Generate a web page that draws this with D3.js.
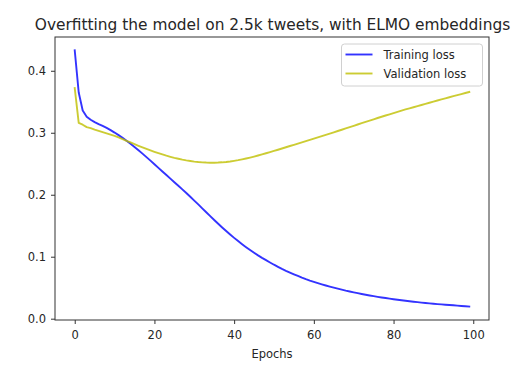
<!DOCTYPE html>
<html><head><meta charset="utf-8">
<script src="https://cdn.jsdelivr.net/npm/d3@7"></script>
<style>
html,body{margin:0;padding:0;background:#fff;}
svg{display:block;font-family:"DejaVu Sans",sans-serif;}
</style></head>
<body>
<script>
const titleText = "Overfitting the model on 2.5k tweets, with ELMO embeddings";
const xLabel = "Epochs";
const seriesNames = ["Training loss", "Validation loss"];
const xTicks = [0, 20, 40, 60, 80, 100];
const yTicks = [0.0, 0.1, 0.2, 0.3, 0.4];

const trainingLoss = [
 0.4330,0.3650,0.3360,0.3260,0.3210,0.3172,0.3140,0.3110,0.3078,0.3042,
 0.3003,0.2962,0.2918,0.2871,0.2822,0.2771,0.2718,0.2663,0.2607,0.2550,
 0.2492,0.2434,0.2376,0.2318,0.2260,0.2202,0.2144,0.2086,0.2027,0.1967,
 0.1906,0.1844,0.1781,0.1718,0.1655,0.1593,0.1532,0.1472,0.1414,0.1358,
 0.1304,0.1252,0.1202,0.1154,0.1108,0.1064,0.1022,0.0982,0.0944,0.0907,
 0.0871,0.0837,0.0804,0.0773,0.0744,0.0716,0.0689,0.0662,0.0637,0.0614,
 0.0593,0.0573,0.0554,0.0536,0.0518,0.0501,0.0484,0.0468,0.0452,0.0438,
 0.0425,0.0412,0.0399,0.0387,0.0375,0.0364,0.0353,0.0343,0.0333,0.0323,
 0.0314,0.0305,0.0297,0.0289,0.0281,0.0274,0.0267,0.0260,0.0254,0.0248,
 0.0242,0.0236,0.0231,0.0226,0.0221,0.0216,0.0211,0.0206,0.0201,0.0196
];
const validationLoss = [
 0.3720,0.3160,0.3130,0.3090,0.3075,0.3050,0.3030,0.3010,0.2990,0.2970,
 0.2950,0.2925,0.2898,0.2870,0.2843,0.2816,0.2790,0.2765,0.2740,0.2716,
 0.2693,0.2671,0.2650,0.2630,0.2612,0.2595,0.2580,0.2566,0.2554,0.2544,
 0.2535,0.2528,0.2523,0.2519,0.2517,0.2517,0.2519,0.2523,0.2529,0.2537,
 0.2547,0.2558,0.2571,0.2585,0.2600,0.2616,0.2633,0.2651,0.2669,0.2688,
 0.2707,0.2726,0.2746,0.2766,0.2786,0.2806,0.2826,0.2846,0.2866,0.2886,
 0.2906,0.2926,0.2946,0.2966,0.2986,0.3007,0.3028,0.3049,0.3070,0.3091,
 0.3112,0.3133,0.3154,0.3175,0.3196,0.3217,0.3238,0.3258,0.3278,0.3298,
 0.3318,0.3338,0.3357,0.3376,0.3394,0.3412,0.3430,0.3448,0.3466,0.3484,
 0.3502,0.3520,0.3538,0.3556,0.3573,0.3590,0.3607,0.3624,0.3641,0.3658
];
const epochs = trainingLoss.map((d, i) => i);
const colors = ["#0000ff", "#bfbf00"];

const W = 511, H = 369;
const plot = {left: 55, right: 489, top: 37, bottom: 320};
const textColor = "#262626";
const fontSize = 11.5;

const svg = d3.select("body").append("svg").attr("width", W).attr("height", H);

const x = d3.scaleLinear().domain([-4.95, 103.95]).range([plot.left, plot.right]);
const y = d3.scaleLinear().domain([-0.0021, 0.4545]).range([plot.bottom, plot.top]);

// title
svg.append("text").attr("x", (plot.left + plot.right) / 2 + 0.5).attr("y", 29.5)
  .attr("text-anchor", "middle").attr("font-size", 15.4).attr("fill", textColor)
  .text(titleText);

// lines
const series = [trainingLoss, validationLoss];
const line = d3.line().x((d, i) => x(epochs[i])).y(d => y(d));
series.forEach((s, k) => {
  svg.append("path").datum(s).attr("d", line)
    .attr("fill", "none").attr("stroke", colors[k]).attr("stroke-opacity", 0.8)
    .attr("stroke-width", 1.9).attr("stroke-linejoin", "round").attr("stroke-linecap", "square");
});

// axes
const xAxis = d3.axisBottom(x).tickValues(xTicks).tickSize(4).tickPadding(7).tickFormat(d3.format("d"));
const gx = svg.append("g").attr("transform", `translate(0,${plot.bottom})`).call(xAxis);
const yAxis = d3.axisLeft(y).tickValues(yTicks).tickSize(4).tickPadding(5).tickFormat(d3.format(".1f"));
const gy = svg.append("g").attr("transform", `translate(${plot.left},0)`).call(yAxis);
[gx, gy].forEach(g => {
  g.select(".domain").remove();
  g.selectAll(".tick line").attr("stroke", "#333").attr("stroke-width", 1);
  g.selectAll(".tick text").attr("fill", textColor).attr("font-size", fontSize)
    .attr("font-family", "DejaVu Sans, sans-serif");
});

// spines
svg.append("rect").attr("x", plot.left).attr("y", plot.top)
  .attr("width", plot.right - plot.left).attr("height", plot.bottom - plot.top)
  .attr("fill", "none").attr("stroke", "#333").attr("stroke-width", 1);

// x label
svg.append("text").attr("x", (plot.left + plot.right) / 2).attr("y", 357.5)
  .attr("text-anchor", "middle").attr("font-size", fontSize).attr("fill", textColor)
  .text(xLabel);

// legend
const lg = svg.append("g");
lg.append("rect").attr("x", 341.5).attr("y", 44).attr("width", 141).attr("height", 42)
  .attr("rx", 3).attr("fill", "#fff").attr("fill-opacity", 0.8)
  .attr("stroke", "#d0d0d0").attr("stroke-width", 1);
seriesNames.forEach((name, k) => {
  const yy = 54.5 + k * 19;
  lg.append("line").attr("x1", 345.5).attr("x2", 372.5).attr("y1", yy).attr("y2", yy)
    .attr("stroke", colors[k]).attr("stroke-opacity", 0.8).attr("stroke-width", 1.9);
  lg.append("text").attr("x", 383.5).attr("y", yy).attr("dy", "0.35em")
    .attr("font-size", fontSize).attr("fill", textColor).text(name);
});
</script>
</body></html>
